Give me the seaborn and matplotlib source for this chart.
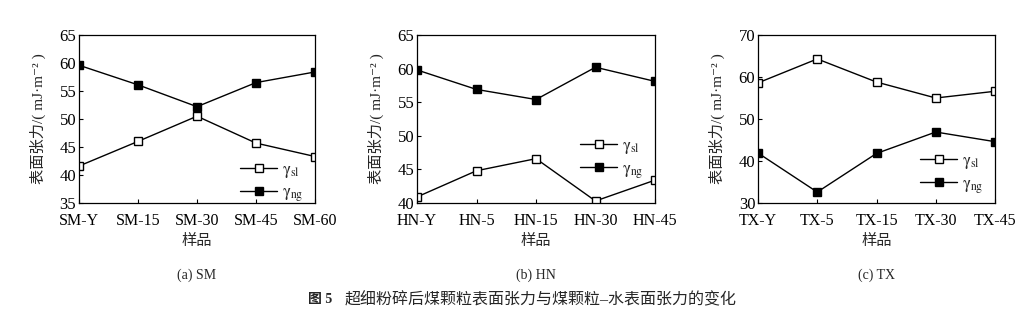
import matplotlib
matplotlib.use("Agg")
import matplotlib.pyplot as plt
import seaborn as sns
import pandas as pd
from matplotlib.lines import Line2D

sns.set_theme(style="ticks")
plt.rcParams['font.family'] = ['Liberation Serif', 'Noto Sans CJK SC', 'DejaVu Sans']
plt.rcParams['mathtext.fontset'] = 'stix'
plt.rcParams['axes.unicode_minus'] = False

# ---- data ----
sm_samples = ["SM-Y", "SM-15", "SM-30", "SM-45", "SM-60"]
sm_sl = [41.6, 46.0, 50.5, 45.7, 43.3]
sm_ng = [59.6, 56.1, 52.2, 56.5, 58.4]

hn_samples = ["HN-Y", "HN-5", "HN-15", "HN-30", "HN-45"]
hn_sl = [40.9, 44.8, 46.6, 40.3, 43.4]
hn_ng = [59.8, 56.9, 55.4, 60.2, 58.1]

tx_samples = ["TX-Y", "TX-5", "TX-15", "TX-30", "TX-45"]
tx_sl = [58.6, 64.3, 58.8, 55.0, 56.6]
tx_ng = [41.9, 32.6, 41.8, 46.9, 44.6]

ylims = [(35, 65, 5), (40, 65, 5), (30, 70, 10)]
captions = ["(a) SM", "(b) HN", "(c) TX"]
series_labels = [r"$\mathrm{\gamma}_{\rm sl}$", r"$\mathrm{\gamma}_{\rm ng}$"]
ylabel_text = "表面张力/( mJ·m⁻² )"
xlabel_text = "样品"
title_text = "超细粉碎后煤颗粒表面张力与煤颗粒–水表面张力的变化"

panels = [(sm_samples, sm_sl, sm_ng), (hn_samples, hn_sl, hn_ng), (tx_samples, tx_sl, tx_ng)]

fig = plt.figure(figsize=(10.24, 3.14), dpi=100)
lefts = [79, 417, 758]
widths = [236, 238, 237]
legend_anchor = [(1.0, 0.12), (1.0, 0.26), (1.0, 0.17)]

for i, (samples, sl, ng) in enumerate(panels):
    ax = fig.add_axes([lefts[i] / 1024, (314 - 203) / 314, widths[i] / 1024, 168 / 314])
    df = pd.DataFrame({"x": list(range(len(samples))), "sl": sl, "ng": ng})
    sns.lineplot(data=df, x="x", y="sl", ax=ax, color="black", lw=1.0, marker="s",
                 markersize=6, markerfacecolor="white", markeredgecolor="black",
                 markeredgewidth=1.0, sort=False)
    sns.lineplot(data=df, x="x", y="ng", ax=ax, color="black", lw=1.0, marker="s",
                 markersize=6, markerfacecolor="black", markeredgecolor="black",
                 markeredgewidth=1.0, sort=False)
    ax.set_xlim(0, len(samples) - 1)
    ax.set_xticks(range(len(samples)))
    ax.set_xticklabels(samples)
    lo, hi, st = ylims[i]
    ax.set_ylim(lo, hi)
    ax.set_yticks(list(range(lo, hi + 1, st)))
    ax.tick_params(direction="in", length=3, width=0.8, colors="black")
    ax.tick_params(axis="x", labelsize=11.5, pad=7)
    ax.tick_params(axis="y", labelsize=12, pad=2)
    for sp in ax.spines.values():
        sp.set_linewidth(0.9)
        sp.set_color("black")
        sp.set_visible(True)
    ax.set_xlabel(xlabel_text, fontsize=11, labelpad=4)
    ax.set_ylabel(ylabel_text, fontsize=11, labelpad=10)
    handles = [
        Line2D([], [], color="black", lw=1.0, marker="s", markersize=6,
               markerfacecolor="white", markeredgecolor="black"),
        Line2D([], [], color="black", lw=1.0, marker="s", markersize=6,
               markerfacecolor="black", markeredgecolor="black"),
    ]
    ax.legend(handles, series_labels, loc="center right", bbox_to_anchor=legend_anchor[i],
              frameon=False, fontsize=12, handlelength=2.2, handletextpad=0.3,
              labelspacing=0.3, borderaxespad=0.3)
    cx = (lefts[i] + widths[i] / 2) / 1024
    fig.text(cx, 1 - 275 / 314, captions[i], ha="center", va="center", fontsize=10)

fig.text(308 / 1024, 1 - 300 / 314, "图 5", ha="left", va="center", fontsize=10,
         fontweight="bold")
fig.text(345 / 1024, 1 - 300 / 314, title_text, ha="left", va="center", fontsize=11.5)

fig.savefig("out.png", dpi=100, facecolor="white")
